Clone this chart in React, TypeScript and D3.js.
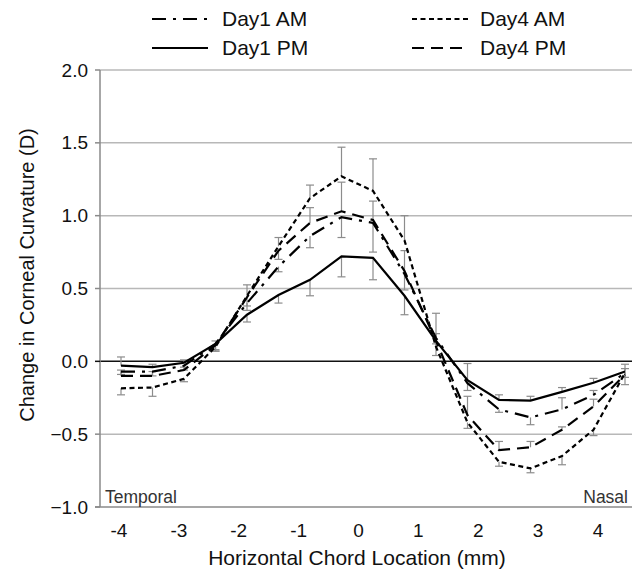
import React from "react";
import * as d3 from "d3";

const locations = [-4, -3.5, -3, -2.5, -2, -1.5, -1, -0.5, 0, 0.5, 1, 1.5, 2, 2.5, 3, 3.5, 4];
const xTickLabels = [-4, -3, -2, -1, 0, 1, 2, 3, 4];
const yTicks = [-1.0, -0.5, 0.0, 0.5, 1.0, 1.5, 2.0];

const day1AM = [-0.07, -0.07, -0.03, 0.12, 0.40, 0.65, 0.86, 0.99, 0.95, 0.60, 0.16, -0.15, -0.33, -0.385, -0.33, -0.23, -0.08];
const day1PM = [-0.03, -0.04, -0.01, 0.12, 0.32, 0.455, 0.56, 0.72, 0.71, 0.45, 0.14, -0.13, -0.265, -0.27, -0.21, -0.147, -0.07];
const day4AM = [-0.185, -0.18, -0.12, 0.10, 0.45, 0.79, 1.12, 1.27, 1.17, 0.83, 0.10, -0.42, -0.69, -0.735, -0.65, -0.47, -0.08];
const day4PM = [-0.10, -0.10, -0.06, 0.11, 0.44, 0.76, 0.95, 1.03, 0.97, 0.62, 0.14, -0.37, -0.61, -0.59, -0.47, -0.31, -0.09];

// signed error bars (positive = drawn upward, negative = drawn downward)
const err1AM = [-0.02, -0.03, -0.03, -0.04, -0.05, -0.035, -0.08, -0.14, -0.2, -0.11, -0.04, -0.05, -0.02, -0.05, 0.08, 0.03, -0.03];
const err1PM = [0.06, 0.02, 0.02, -0.05, -0.05, -0.055, -0.11, -0.14, -0.15, -0.13, -0.10, 0.115, 0.035, 0.03, 0.03, 0.03, 0.05];
const err4AM = [-0.045, -0.06, -0.02, -0.03, 0.075, 0.06, 0.09, 0.2, 0.22, 0.17, 0.23, -0.04, -0.03, -0.03, -0.06, -0.04, -0.08];
const err4PM = [0.04, 0.03, 0.02, 0.03, -0.06, -0.06, 0.105, 0.2, 0.13, 0.14, 0.05, 0.13, 0.06, 0.04, 0.02, 0.05, 0.04];

const seriesNames = ["Day1 AM", "Day1 PM", "Day4 AM", "Day4 PM"];
const seriesValues = [day1AM, day1PM, day4AM, day4PM];
const seriesErrors = [err1AM, err1PM, err4AM, err4PM];
const seriesDash = ["14,7,3,7", "none", "5,3.5", "12,7"];

const FONT = "Liberation Sans, Arial, sans-serif";

export default function App() {
  const W = 636, H = 571;
  const plotLeft = 100, plotRight = 632, plotTop = 70, plotBottom = 507;
  const y = d3.scaleLinear().domain([-1, 2]).range([plotBottom, plotTop]);
  const x = d3.scalePoint<number>().domain(locations).range([121, 625]);
  const xLabel = d3.scaleLinear().domain([-4, 4]).range([119, 598]);
  const line = d3.line<number>().x((_, i) => x(locations[i]) as number).y((d) => y(d));

  const legendPos = [
    { lx: 152, tx: 222, cy: 19 },
    { lx: 152, tx: 222, cy: 48 },
    { lx: 412, tx: 480, cy: 19 },
    { lx: 412, tx: 480, cy: 48 },
  ];

  return (
    <svg width={W} height={H} style={{ position: "absolute", left: 0, top: 0, background: "#fff" }} fontFamily={FONT}>
      <rect x={0} y={0} width={W} height={H} fill="#fff" />
      {/* gridlines */}
      {yTicks.map((t) => (
        <line key={"g" + t} x1={t === -1 ? 95 : plotLeft} x2={plotRight} y1={y(t)} y2={y(t)}
          stroke={t === 0 ? "#111" : t === -1 ? "#8a8a8a" : "#b8b8b8"} strokeWidth={1.5} />
      ))}
      {/* y axis */}
      <line x1={plotLeft} x2={plotLeft} y1={plotTop} y2={plotBottom} stroke="#8a8a8a" strokeWidth={1.5} />
      {yTicks.map((t) => (
        <line key={"t" + t} x1={95} x2={plotLeft} y1={y(t)} y2={y(t)} stroke={t === 0 ? "#111" : "#8a8a8a"} strokeWidth={1.5} />
      ))}
      {yTicks.map((t) => (
        <text key={"yl" + t} x={88} y={y(t)} dy="0.35em" textAnchor="end" fontSize={19} fill="#111">
          {d3.format(".1f")(t)}
        </text>
      ))}
      {/* x labels */}
      {xTickLabels.map((t) => (
        <text key={"xl" + t} x={xLabel(t)} y={537} textAnchor="middle" fontSize={19} fill="#111">
          {t}
        </text>
      ))}
      <text x={105} y={503} fontSize={17.5} fill="#333">Temporal</text>
      <text x={628} y={503} fontSize={17.5} fill="#333" textAnchor="end">Nasal</text>
      {/* axis titles */}
      <text x={357} y={565} textAnchor="middle" fontSize={21} fill="#111">Horizontal Chord Location (mm)</text>
      <text transform={`translate(34,${275}) rotate(-90)`} textAnchor="middle" fontSize={20} fill="#111">
        Change in Corneal Curvature (D)
      </text>
      {/* error bars */}
      {seriesValues.map((vals, si) =>
        vals.map((v, i) => {
          const e = seriesErrors[si][i];
          const cx = x(locations[i]) as number;
          return (
            <g key={`e${si}-${i}`} stroke="#8c8c8c" strokeWidth={1.2}>
              <line x1={cx} x2={cx} y1={y(v)} y2={y(v + e)} />
              <line x1={cx - 4} x2={cx + 4} y1={y(v + e)} y2={y(v + e)} />
            </g>
          );
        })
      )}
      {/* lines */}
      {seriesValues.map((vals, si) => (
        <path key={"l" + si} d={line(vals) || ""} fill="none" stroke="#000" strokeWidth={2.2}
          strokeDasharray={seriesDash[si]} />
      ))}
      {/* legend */}
      {seriesNames.map((n, si) => (
        <g key={"lg" + si}>
          <line x1={legendPos[si].lx} x2={legendPos[si].lx + 56} y1={legendPos[si].cy} y2={legendPos[si].cy}
            stroke="#000" strokeWidth={2.2} strokeDasharray={seriesDash[si]} />
          <text x={legendPos[si].tx} y={legendPos[si].cy} dy="0.35em" fontSize={21} fill="#111">{n}</text>
        </g>
      ))}
    </svg>
  );
}
